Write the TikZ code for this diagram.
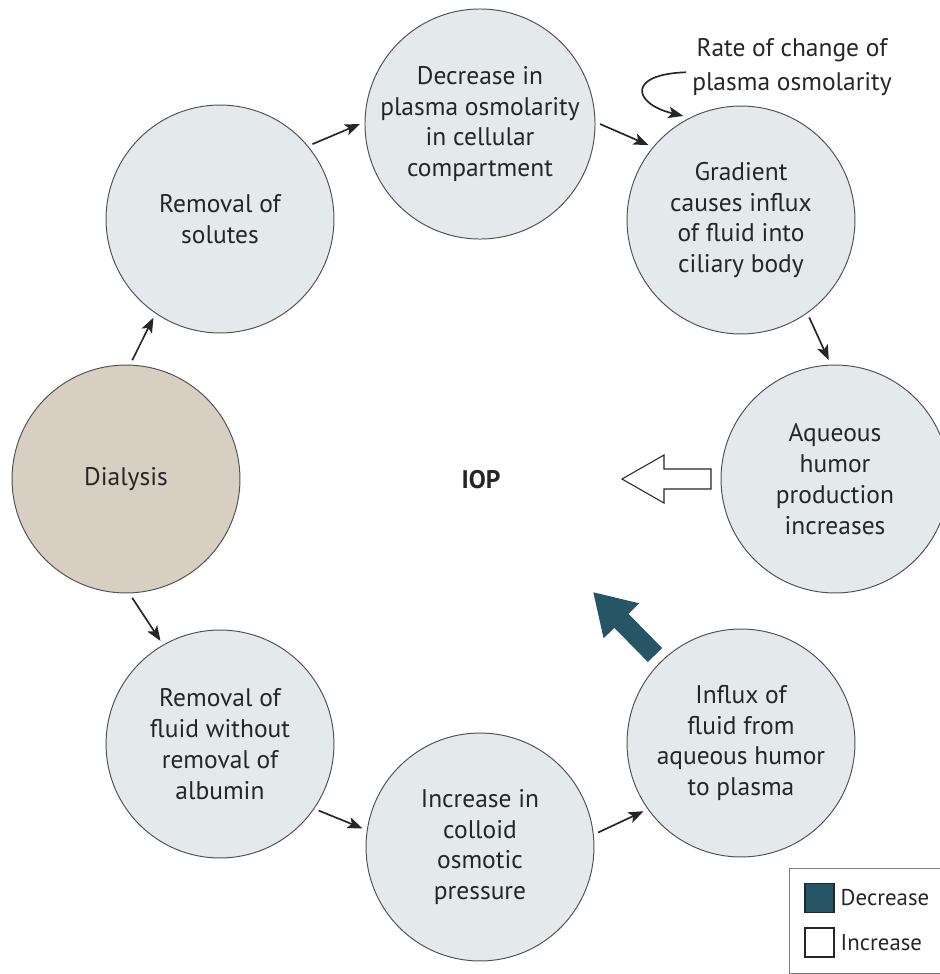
\documentclass[tikz,border=0pt]{standalone}
\usepackage{fontspec}
\setmainfont{PT Sans}
\usetikzlibrary{arrows.meta}
\definecolor{bubble}{HTML}{E4E9EC}
\definecolor{sand}{HTML}{D7CFC1}
\definecolor{petrol}{HTML}{265565}
\definecolor{ink}{HTML}{262626}

\begin{document}
\begin{tikzpicture}[x=0.02cm,y=-0.02cm,>={Stealth[length=3mm,width=2.3mm,inset=0.7mm]},
  bub/.style={circle,draw=ink!80,line width=0.55pt,fill=bubble,minimum size=4.56cm,inner sep=0pt,outer sep=1mm,align=center,text=ink,font=\fontsize{14.5}{17.6}\selectfont},
  flow/.style={->,line width=0.95pt,draw=ink},
  swatch/.style={draw=ink,line width=0.6pt,minimum size=0.58cm,inner sep=0pt},
  lab/.style={text=ink,font=\fontsize{14.5}{17.6}\selectfont}]
\useasboundingbox (0,0) rectangle (940,974);
\clip (0,0) rectangle (940,974);

% the cycle
\node[bub,fill=sand] (dia) at (126,479) {Dialysis};
\node[bub] (sol) at (220,219) {Removal of\\solutes};
\node[bub] (dec) at (480,124) {Decrease in\\plasma osmolarity\\in cellular\\compartment};
\node[bub] (grad) at (741,220) {Gradient\\causes influx\\of fluid into\\ciliary body};
\node[bub] (aq) at (835,479) {Aqueous\\humor\\production\\increases};
\node[bub] (infl) at (741,743) {Influx of\\fluid from\\aqueous humor\\to plasma};
\node[bub] (coll) at (480,847) {Increase in\\colloid\\osmotic\\pressure};
\node[bub] (fluid) at (220,744) {Removal of\\fluid without\\removal of\\albumin};
\node[lab,font=\fontsize{14.5}{17.6}\selectfont\bfseries] (iop) at (481,480) {IOP};
\node[lab,align=center,font=\fontsize{14.5}{19}\selectfont] (rate) at (792,67) {Rate of change of\\plasma osmolarity};

\draw[flow] (dia.87) -- (sol.236);
\draw[flow] (sol.39) -- (dec.180);
\draw[flow] (dec.0) -- (grad.141);
\draw[flow] (grad.305) -- (aq.93);
\draw[flow] (dia.273) -- (fluid.120);
\draw[flow] (fluid.326) -- (coll.171);
\draw[flow] (coll.7) -- (infl.215);
\draw[flow] ([yshift=-3pt]rate.west) .. controls +(-60,2) and +(-50,-12) .. (grad.119);

% big arrows
\draw[ink,line width=0.6pt,fill=white] (711,469) -- (664,469) -- (664,455) -- (622,479) -- (664,503) -- (664,489) -- (711,489) -- cycle;
\fill[petrol] (662.1,648.0) -- (628.5,613.8) -- (639.2,603.3) -- (593.3,592.3) -- (603.6,638.3) -- (614.3,627.8) -- (647.9,662.0) -- cycle;

% legend
\draw[ink!60,line width=0.5pt] (789,868) rectangle (960,973);
\node[swatch,fill=petrol] (dsw) at (819.5,898) {};
\node[swatch,fill=white] (isw) at (819.5,942.5) {};
\node[lab,anchor=west,font=\fontsize{13}{16}\selectfont] (dlab) at (dsw.east) {Decrease};
\node[lab,anchor=west,font=\fontsize{13}{16}\selectfont] (ilab) at (isw.east) {Increase};
\end{tikzpicture}
\end{document}
